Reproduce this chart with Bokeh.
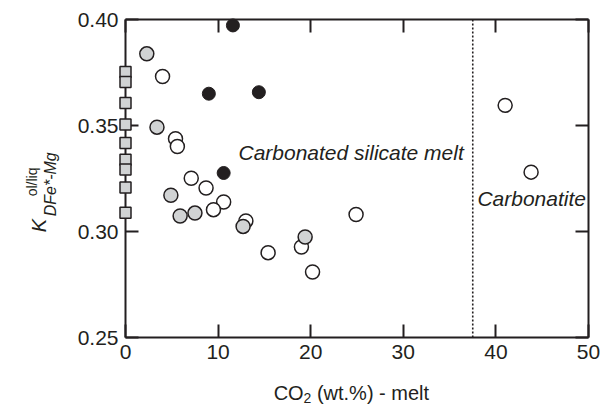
import math

from bokeh.embed import file_html
from bokeh.models import FixedTicker, Label, LinearAxis, Range1d
from bokeh.plotting import figure
from bokeh.resources import INLINE

# CO2 in the melt (wt.%) and the olivine/liquid Fe*-Mg exchange coefficient
sq_co2 = [0, 0, 0, 0, 0, 0, 0, 0, 0]
sq_kd = [0.3752, 0.3705, 0.3606, 0.3505, 0.3417, 0.3339, 0.3292, 0.3207, 0.3089]

gray_co2 = [2.3, 3.4, 4.9, 5.9, 7.5, 12.7, 19.4]
gray_kd = [0.3838, 0.3492, 0.3171, 0.3073, 0.3087, 0.3024, 0.2974]

open_co2 = [4.0, 5.4, 5.6, 7.1, 8.7, 10.6, 9.5, 13.0, 15.4, 19.0, 20.2, 24.9, 41.0, 43.8]
open_kd = [0.3731, 0.3438, 0.3401, 0.3251, 0.3205, 0.3139, 0.3103, 0.3050, 0.2900,
           0.2927, 0.2809, 0.3080, 0.3595, 0.3280]

black_co2 = [11.6, 9.0, 14.4, 10.6]
black_kd = [0.3972, 0.3650, 0.3657, 0.3276]

x_ticks = [0, 10, 20, 30, 40, 50]
y_ticks = [0.25, 0.30, 0.35, 0.40]
x_lim = (0, 50)
y_lim = (0.25, 0.40)
carbonatite_boundary = 37.5

INK = "#231f20"
GRAY = "#d1d3d4"
FONT = "Liberation Sans"

# The frame fills the whole canvas; the box axes are pinned at the data limits,
# which leaves room inside the frame for the axis titles.
W, H = 600, 404
px_per_x = 9.26      # pixels per wt.% CO2
px_per_y = 2120.0    # pixels per unit of Kd
left_px, top_px = 125, 19
x0 = x_lim[0] - left_px / px_per_x
y1 = y_lim[1] + top_px / px_per_y

p = figure(
    width=W, height=H,
    x_range=Range1d(x0, x0 + W / px_per_x),
    y_range=Range1d(y1 - H / px_per_y, y1),
    output_backend="svg", toolbar_location=None,
    min_border=0, min_border_left=0, min_border_right=0,
    min_border_top=0, min_border_bottom=0,
    x_axis_location=None, y_axis_location=None,
)
p.outline_line_color = None
p.xgrid.visible = False
p.ygrid.visible = False
p.background_fill_color = "white"
p.border_fill_color = "white"


def make_axis(ticks, where, bounds, labels):
    ax = LinearAxis(fixed_location=where, bounds=bounds)
    ax.ticker = FixedTicker(ticks=ticks)
    ax.minor_tick_line_color = None
    ax.major_tick_in = 13
    ax.major_tick_out = 0
    ax.major_tick_line_width = 2
    ax.major_tick_line_color = INK
    ax.axis_line_width = 2
    ax.axis_line_color = INK
    ax.major_label_text_font = FONT
    ax.major_label_text_font_size = "21px"
    ax.major_label_standoff = 7
    ax.major_label_text_color = INK if labels else None
    return ax


bottom = make_axis(x_ticks, y_lim[0], x_lim, True)
bottom.major_label_overrides = {v: str(v) for v in x_ticks}
p.add_layout(bottom, "below")

left = make_axis(y_ticks, x_lim[0], y_lim, True)
left.major_label_overrides = {v: f"{v:.2f}" for v in y_ticks}
p.add_layout(left, "left")

p.add_layout(make_axis(x_ticks, y_lim[1], x_lim, False), "above")
p.add_layout(make_axis(y_ticks, x_lim[1], y_lim, False), "right")

# boundary between carbonated silicate melts and carbonatites
p.segment(x0=[carbonatite_boundary], y0=[y_lim[0]], x1=[carbonatite_boundary], y1=[y_lim[1]],
          line_color=INK, line_width=1.6, line_dash="2 2")

p.scatter(open_co2, open_kd, marker="circle", size=14, fill_color="white",
          line_color=INK, line_width=1.5)
p.scatter(gray_co2, gray_kd, marker="circle", size=14, fill_color=GRAY,
          line_color=INK, line_width=1.5)
p.scatter(black_co2, black_kd, marker="circle", size=13, fill_color=INK,
          line_color=INK, line_width=1)
p.scatter(sq_co2, sq_kd, marker="square", size=11, fill_color=GRAY,
          line_color=INK, line_width=1.5, level="overlay")


def label(x, y, text, size, italic=False, angle=0.0):
    p.add_layout(Label(x=x, y=y, text=text, angle=angle, text_font=FONT,
                       text_font_style="italic" if italic else "normal",
                       text_font_size=size, text_color=INK,
                       text_baseline="alphabetic"))


# field names
label(12.2, 0.3373, "Carbonated silicate melt", "21px", italic=True)
label(38.0, 0.3158, "Carbonatite", "21px", italic=True)

# x axis title: CO2 (wt.%) - melt, with subscript 2
label(16.0, 0.2239, "CO", "20px")
label(19.23, 0.2215, "2", "14px")
label(20.67, 0.2239, "(wt.%) - melt", "20px")

# y axis title: K with subscript DFe*-Mg and superscript ol/liq
up = math.pi / 2
label(-9.31, 0.2996, "K", "20px", italic=True, angle=up)
label(-8.10, 0.3072, "DFe*-Mg", "16px", italic=True, angle=up)
label(-10.15, 0.3166, "ol/liq", "14px", angle=up)

open("out.html", "w").write(file_html(p, INLINE))
